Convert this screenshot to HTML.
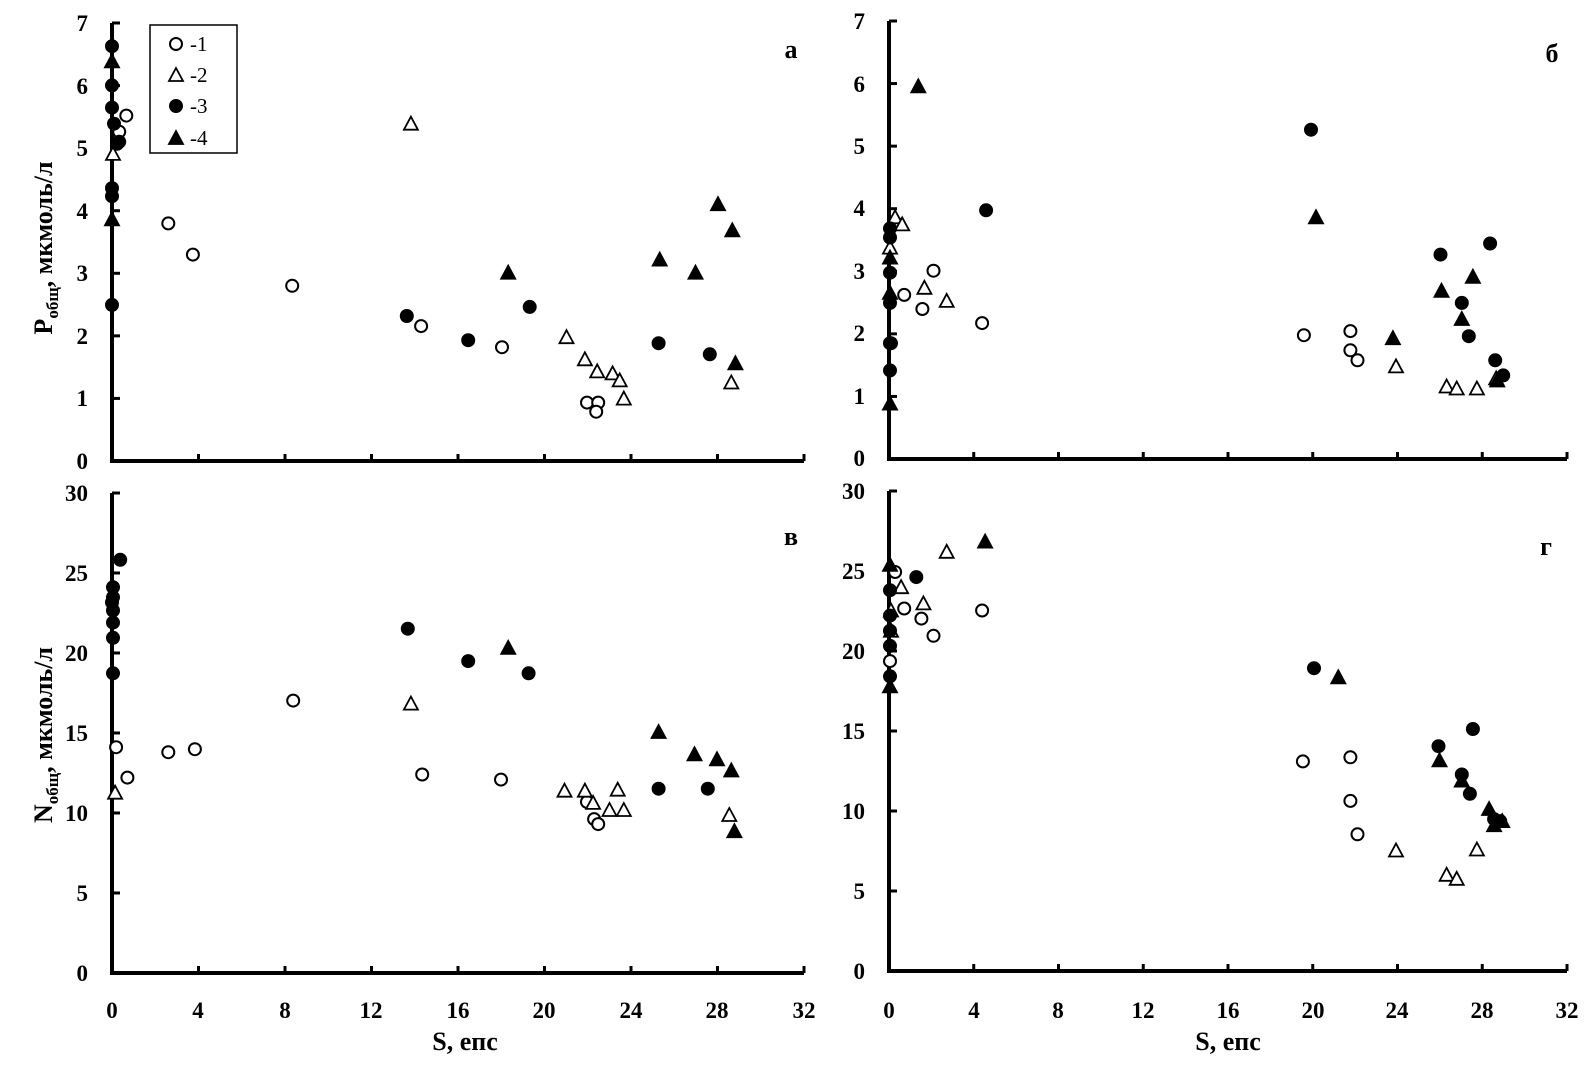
<!DOCTYPE html>
<html><head><meta charset="utf-8"><style>
html,body{margin:0;padding:0;background:#fff;}
svg{display:block;}
text{font-family:"Liberation Serif",serif;font-weight:bold;fill:#000;}
</style></head><body>
<svg id="s" width="1594" height="1076" viewBox="0 0 1594 1076" xmlns="http://www.w3.org/2000/svg">
<g stroke="#000" stroke-width="4" fill="none">
<path d="M112,23 V461 H804"/>
<path d="M889,21 V459 H1567"/>
<path d="M112,493 V973 H804"/>
<path d="M889,491 V971 H1567"/>
</g>
<g id="ticks" stroke="#000" stroke-width="3"></g>
<g font-size="23" text-anchor="end">
<text x="88" y="31">7</text><text x="88" y="94">6</text><text x="88" y="156">5</text><text x="88" y="219">4</text><text x="88" y="281">3</text><text x="88" y="344">2</text><text x="88" y="406">1</text><text x="88" y="469">0</text>
<text x="865" y="29">7</text><text x="865" y="92">6</text><text x="865" y="154">5</text><text x="865" y="216">4</text><text x="865" y="279">3</text><text x="865" y="341">2</text><text x="865" y="404">1</text><text x="865" y="466">0</text>
<text x="88" y="501">30</text><text x="88" y="581">25</text><text x="88" y="661">20</text><text x="88" y="741">15</text><text x="88" y="821">10</text><text x="88" y="901">5</text><text x="88" y="981">0</text>
<text x="865" y="499">30</text><text x="865" y="579">25</text><text x="865" y="659">20</text><text x="865" y="739">15</text><text x="865" y="819">10</text><text x="865" y="899">5</text><text x="865" y="979">0</text>
</g>
<g font-size="23" text-anchor="middle">
<text x="112" y="1018">0</text><text x="198" y="1018">4</text><text x="285" y="1018">8</text><text x="371" y="1018">12</text><text x="458" y="1018">16</text><text x="544" y="1018">20</text><text x="631" y="1018">24</text><text x="717" y="1018">28</text><text x="804" y="1018">32</text>
<text x="889" y="1018">0</text><text x="974" y="1018">4</text><text x="1058" y="1018">8</text><text x="1143" y="1018">12</text><text x="1228" y="1018">16</text><text x="1313" y="1018">20</text><text x="1397" y="1018">24</text><text x="1482" y="1018">28</text><text x="1567" y="1018">32</text>
</g>
<g font-size="26" text-anchor="middle">
<text x="465" y="1050">S, епс</text><text x="1228" y="1050">S, епс</text>
<text x="791" y="58">а</text><text x="1552" y="62">б</text><text x="791" y="545">в</text><text x="1546" y="555">г</text>
<text transform="translate(52,248) rotate(-90)">P<tspan font-size="17" dy="6">общ</tspan><tspan dy="-6">, мкмоль/л</tspan></text>
<text transform="translate(52,735) rotate(-90)">N<tspan font-size="17" dy="6">общ</tspan><tspan dy="-6">, мкмоль/л</tspan></text>
</g>
<rect x="150" y="25" width="87" height="128" fill="#fff" stroke="#000" stroke-width="1.5"/>
<g id="pts"></g>
<g font-size="21">
<text x="190" y="51" style="font-weight:normal">-1</text>
<text x="190" y="82" style="font-weight:normal">-2</text>
<text x="190" y="113" style="font-weight:normal">-3</text>
<text x="190" y="145" style="font-weight:normal">-4</text>
</g>
</svg>
<script>
var NS="http://www.w3.org/2000/svg",g=document.getElementById('pts'),tk=document.getElementById('ticks');
function el(n,a,p){var e=document.createElementNS(NS,n);for(var k in a)e.setAttribute(k,a[k]);(p||g).appendChild(e);}
function mk(t,x,y){
 x=+x;y=+y;
 if(t==1||t==3) el('circle',{cx:x,cy:y,r:6,fill:t==1?'#fff':'#000',stroke:'#000','stroke-width':2});
 else el('path',{d:'M'+x+','+(y-7)+' L'+(x+7)+','+(y+6)+' L'+(x-7)+','+(y+6)+'Z',fill:t==2?'#fff':'#000',stroke:'#000','stroke-width':1.8});
}
mk(1,176,44);mk(2,176,75);mk(3,176,106);mk(4,176,138);
var P={
a:{ex0:111,ex1:787,ey0:455,ey1:20,tx0:112,tx1:804,ty0:461,ty1:23},
b:{ex0:874,ex1:1544,ey0:455,ey1:20,tx0:889,tx1:1567,ty0:459,ty1:21},
c:{ex0:111,ex1:787,ey0:956,ey1:482,tx0:112,tx1:804,ty0:973,ty1:493},
d:{ex0:874,ex1:1544,ey0:956,ey1:482,tx0:889,tx1:1567,ty0:971,ty1:491}};
function T(p,x,y){return [p.tx0+(x-p.ex0)*(p.tx1-p.tx0)/(p.ex1-p.ex0), p.ty0+(y-p.ey0)*(p.ty1-p.ty0)/(p.ey1-p.ey0)];}
var D={
a:[[1,[[125,112],[166,219],[190,250],[287,281],[413,321],[492,342],[575,397],[586,397],[584,406],[118,128]]],
 [2,[[403,120],[555,332],[573,354],[585,366],[600,368],[607,375],[611,393],[716,377],[112,150]]],
 [3,[[111,43],[111,82],[111,104],[113,120],[118,138],[111,184],[111,192],[111,300],[399,311],[459,335],[519,302],[645,338],[695,349],[116,140]]],
 [4,[[111,58],[111,215],[498,268],[646,255],[681,268],[703,200],[717,226],[720,358]]]],
b:[[1,[[880,220],[889,292],[907,306],[918,268],[966,320],[1284,332],[1330,328],[1330,347],[1337,357],[876,340]]],
 [2,[[880,215],[887,222],[909,285],[931,298],[875,245],[1375,363],[1425,383],[1435,385],[1455,385],[1474,375]]],
 [3,[[875,226],[875,235],[875,270],[875,300],[875,340],[875,367],[970,208],[1291,128],[1419,252],[1440,300],[1447,333],[1468,241],[1473,357],[1481,372]]],
 [4,[[903,85],[875,400],[1296,215],[1372,335],[1420,288],[1440,316],[1451,274],[1475,377],[875,290],[875,255]]]],
c:[[1,[[115,733],[126,763],[166,738],[192,735],[288,687],[414,760],[491,765],[575,787],[582,804],[586,809]]],
 [2,[[114,778],[403,690],[553,776],[573,776],[581,788],[597,795],[605,775],[611,795],[714,800]]],
 [3,[[119,548],[112,575],[112,585],[112,598],[112,610],[112,625],[112,660],[400,616],[459,648],[518,660],[645,774],[693,774],[111,590]]],
 [4,[[498,635],[645,718],[680,740],[702,745],[716,756],[719,816]]]],
d:[[1,[[880,562],[889,598],[906,608],[918,625],[966,600],[1283,749],[1330,745],[1330,788],[1337,821],[875,650]]],
 [2,[[886,577],[908,593],[931,542],[1375,837],[1425,861],[1435,865],[1455,836],[876,600],[876,620]]],
 [3,[[875,580],[875,605],[875,635],[875,665],[901,567],[1294,657],[1417,734],[1440,762],[1448,781],[1451,717],[1472,806],[1478,808],[875,620]]],
 [4,[[875,675],[969,532],[1318,666],[1418,748],[1440,768],[1467,796],[1472,812],[1480,808],[875,555]]]]};
for(var k in D){var p=P[k];D[k].forEach(function(s){s[1].forEach(function(q){var r=T(p,q[0],q[1]);mk(s[0],Math.round(r[0]*10)/10,Math.round(r[1]*10)/10);});});
 for(var i=1;i<=8;i++){var x=p.tx0+i*(p.tx1-p.tx0)/8;el('line',{x1:x,x2:x,y1:p.ty0,y2:p.ty0-7},tk);}
 var n=(k=='a'||k=='b')?7:6;
 for(var j=1;j<=n;j++){var y=p.ty0+j*(p.ty1-p.ty0)/n;el('line',{x1:p.tx0,x2:p.tx0+8,y1:y,y2:y},tk);}
}
</script>
</body></html>
